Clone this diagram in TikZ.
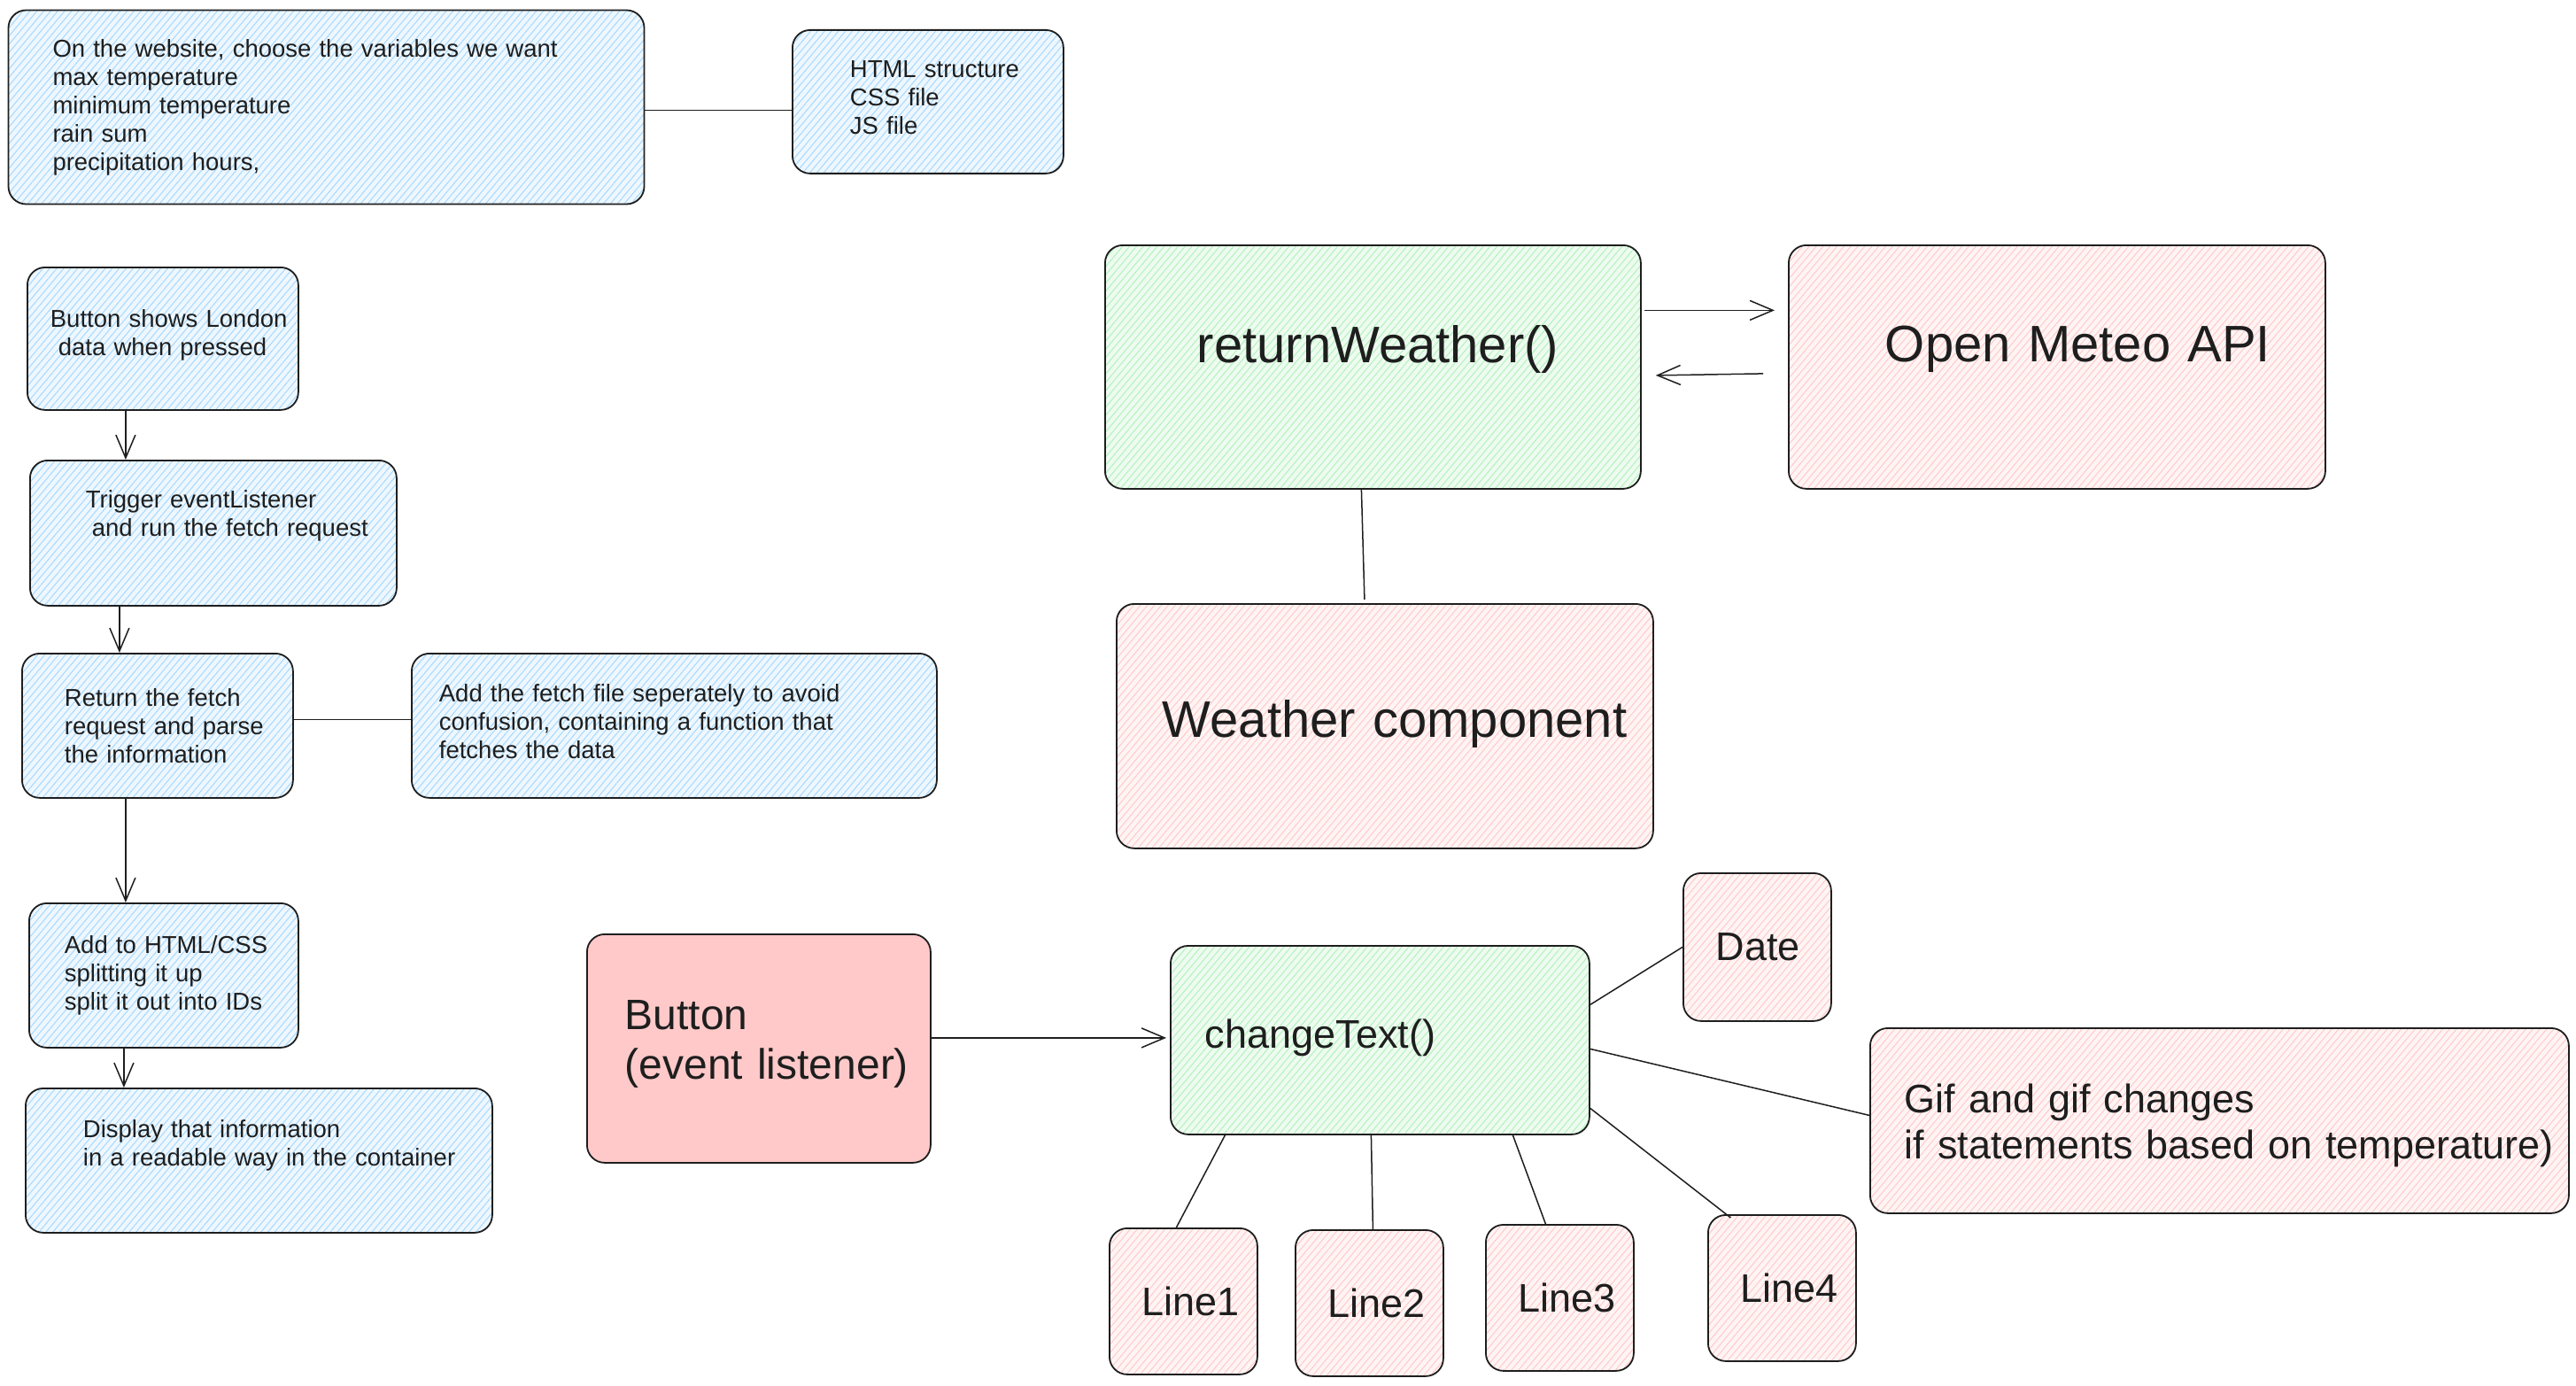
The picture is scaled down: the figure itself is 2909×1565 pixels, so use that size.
\documentclass[tikz,border=0pt]{standalone}
\usepackage{fontspec}
\setmainfont{Liberation Sans}
\usetikzlibrary{arrows.meta,patterns.meta}
\definecolor{ink}{HTML}{1E1E1E}
\definecolor{blueBg}{HTML}{EEF7FE}
\definecolor{blueHatch}{HTML}{A5D8FF}
\definecolor{greenBg}{HTML}{EEFBF0}
\definecolor{greenHatch}{HTML}{B2F2BB}
\definecolor{pinkBg}{HTML}{FFF4F4}
\definecolor{pinkHatch}{HTML}{FFC9C9}
\begin{document}
\begin{tikzpicture}[x=1pt,y=-1pt,
    box/.style={draw=ink,line width=1.8pt,rounded corners=20pt,anchor=north west,inner sep=0pt,text=ink,align=left},
    hatch/.style={preaction={fill=#1Bg},pattern={Lines[angle=50,distance=6pt,line width=1pt]},pattern color=#1Hatch},
    lpad/.style={execute at begin node={\leftskip=#1pt}},
    lift/.style={execute at end node={\endgraf\kern#1pt\hrule height0pt width0pt}},
    smalltxt/.style={font=\fontsize{27.5}{32}\selectfont},
    midtxt/.style={font=\fontsize{45}{52}\selectfont},
    btntxt/.style={font=\fontsize{48}{56}\selectfont},
    bigtxt/.style={font=\fontsize{58}{70}\selectfont},
    line/.style={draw=ink,line width=1.5pt},
    arr/.style={line,-{Straight Barb[length=26pt,width=22pt]}}]
\useasboundingbox (0,0) rectangle (2909,1565);
\node[box,hatch=blue,smalltxt,text width=718pt,minimum height=219pt,lpad=50] (web) at (9,11) {On the website, choose the variables we want\\max temperature\\minimum temperature\\rain sum\\precipitation hours,};
\node[box,hatch=blue,smalltxt,text width=306pt,minimum height=162pt,lpad=65,lift=9] (files) at (894,33) {HTML structure\\CSS file\\JS file};
\node[box,hatch=blue,smalltxt,text width=306pt,minimum height=161pt,lpad=26,lift=8] (london) at (30,301) {Button shows London\\\hspace*{9pt}data when pressed};
\node[box,hatch=blue,smalltxt,text width=414pt,minimum height=164pt,lpad=63,lift=39] (trigger) at (33,519) {Trigger eventListener\\\hspace*{7pt}and run the fetch request};
\node[box,hatch=blue,smalltxt,text width=306pt,minimum height=163pt,lpad=48] (ret) at (24,737) {Return the fetch\\request and parse\\the information};
\node[box,hatch=blue,smalltxt,text width=593pt,minimum height=163pt,lpad=31,lift=10] (fetch) at (464,737) {Add the fetch file seperately to avoid\\confusion, containing a function that\\fetches the data};
\node[box,hatch=blue,smalltxt,text width=304pt,minimum height=163pt,lpad=40] (addhtml) at (32,1019) {Add to HTML/CSS\\splitting it up\\split it out into IDs};
\node[box,hatch=blue,smalltxt,text width=527pt,minimum height=163pt,lpad=65,lift=35] (display) at (28,1228) {Display that information\\in a readable way in the container};
\node[box,hatch=green,bigtxt,text width=605pt,minimum height=275pt,lpad=104,lift=40] (rw) at (1247,276) {returnWeather()};
\node[box,hatch=pink,bigtxt,text width=606pt,minimum height=275pt,lpad=109,lift=40] (om) at (2019,276) {Open Meteo API};
\node[box,hatch=pink,bigtxt,text width=606pt,minimum height=276pt,lpad=52,lift=5] (wc) at (1260,681) {Weather component};
\node[box,fill=pinkHatch,btntxt,text width=388pt,minimum height=258pt,lpad=43,lift=10] (button) at (662,1054) {Button\\(event listener)};
\node[box,hatch=green,midtxt,text width=473pt,minimum height=213pt,lpad=39,lift=5] (change) at (1321,1067) {changeText()};
\node[box,hatch=pink,midtxt,text width=167pt,minimum height=167pt,lpad=37] (date) at (1900,985) {Date};
\node[box,hatch=pink,midtxt,text width=789pt,minimum height=209pt,lpad=39,lift=-11] (gif) at (2111,1160) {Gif and gif changes\\if statements based on temperature)};
\foreach \n/\x/\y in {1/1252/1386,2/1462/1388,3/1677/1382,4/1928/1371}
  \node[box,hatch=pink,midtxt,text width=167pt,minimum height=165pt,lpad=37] (line\n) at (\x,\y) {Line\n};
\draw[line] ([yshift=-3.5pt]web.east) -- ([yshift=-3.5pt]web.east -| files.west);
\draw[arr] ([xshift=-42pt]london.south) -- ([xshift=-42pt]london.south |- trigger.north);
\draw[arr] ([xshift=-106pt]trigger.south) -- ([xshift=-106pt]trigger.south |- ret.north);
\draw[line] ([yshift=7pt]ret.east) -- ([yshift=7pt]ret.east -| fetch.west);
\draw[arr] ([xshift=-36pt]ret.south) -- ([xshift=-36pt]ret.south |- addhtml.north);
\draw[arr] ([xshift=-45pt]addhtml.south) -- ([xshift=-45pt]addhtml.south |- display.north);
\draw[arr] ([xshift=3pt,yshift=64pt]rw.east) -- ([xshift=-15pt,yshift=64pt]rw.east -| om.west);
\draw[arr] ([xshift=-28pt,yshift=-7.5pt]om.west) -- ([xshift=16pt,yshift=-9.5pt]rw.east);
\draw[line] ([xshift=-13pt]rw.south) -- ([xshift=-23pt,yshift=4pt]wc.north);
\draw[arr] ([yshift=12pt]button.east) -- ([xshift=-4pt,yshift=12pt]button.east -| change.west);
\draw[line] ([yshift=40pt]change.east) -- (date.west);
\draw[line] ([yshift=-10pt]change.east) -- ([yshift=6pt]gif.west);
\draw[line] ([xshift=-175pt]change.south) -- ([xshift=-8pt]line1.north);
\draw[line] ([xshift=-10pt]change.south) -- ([xshift=4pt]line2.north);
\draw[line] ([xshift=150pt]change.south) -- ([xshift=-16pt]line3.north);
\draw[line] ([yshift=-77pt]change.east) -- ([xshift=-58pt,yshift=-4pt]line4.north);
\end{tikzpicture}
\end{document}
